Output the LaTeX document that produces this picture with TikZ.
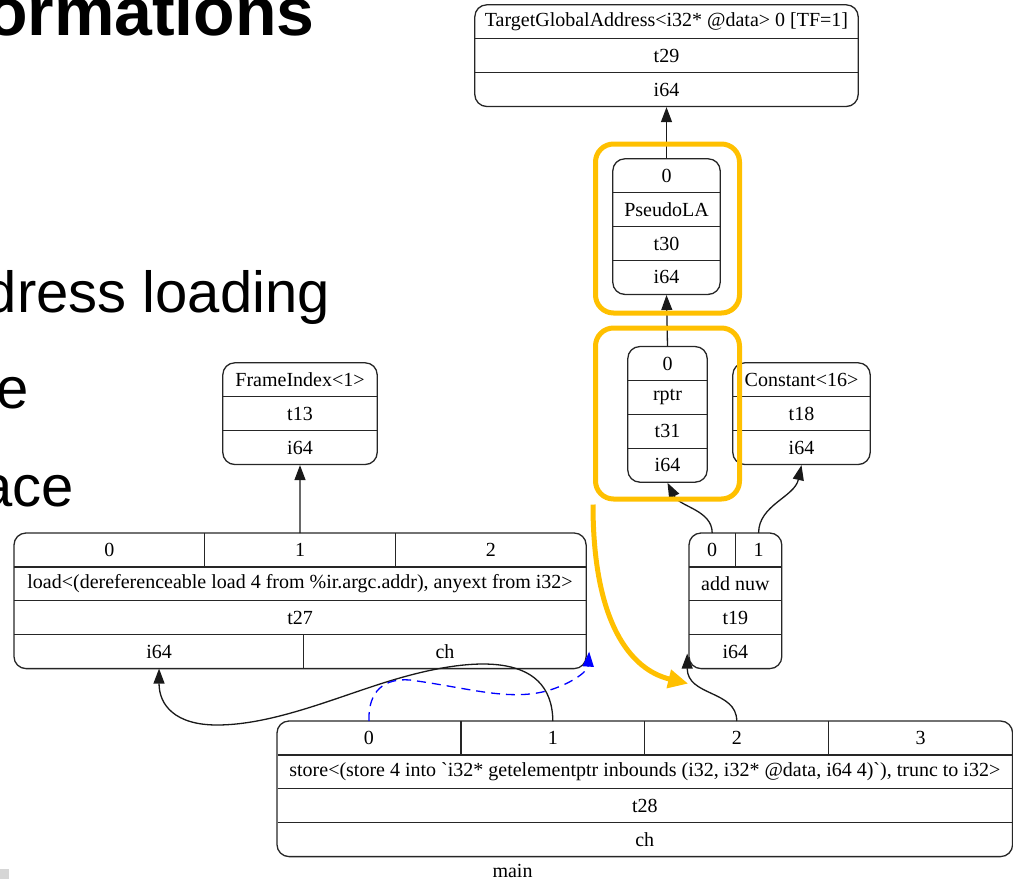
\documentclass[tikz,border=0pt]{standalone}
\usepackage{fontspec}
\newfontfamily\gvfont{Liberation Serif}[Ligatures=TeXOff]
\newfontfamily\slidefont{Liberation Sans}
\usetikzlibrary{arrows.meta, positioning, fit, calc}
\definecolor{hlorange}{HTML}{FFC000}
\definecolor{pagegray}{HTML}{D6D6D6}

\begin{document}
\begin{tikzpicture}[
  x=1pt, y=-1pt,
  cell/.style={minimum height=33.5pt, inner sep=0pt, font=\gvfont\fontsize{20}{23}\selectfont},
  rec/.style={draw=black!85, line width=1.3pt, rounded corners=12pt, inner sep=0pt},
  sep/.style={draw=black!85, line width=1.3pt},
  arrow/.style={-{Triangle[length=15pt, width=11pt]}, line width=1.3pt, black!90},
  hl/.style={draw=hlorange, line width=5pt, rounded corners=18pt, minimum width=144pt},
  slide/.style={anchor=base east, inner sep=0pt, font=\slidefont\fontsize{58}{60}\selectfont}
  ]
  \useasboundingbox (0,0) rectangle (1013,879);

  % ========== slide text (cut off) ==========
  \node[slide, font=\slidefont\bfseries\fontsize{68}{70}\selectfont] (title) at (315,35) {ormations};
  \node[slide] (line1) at (330,312) {dress loading};
  \node[slide] (line2) at (29,408) {e};
  \node[slide] (line3) at (74,506) {ace};
  \fill[pagegray] (0,869) rectangle (9,879);

  % ========== TargetGlobalAddress ==========
  \node[cell, minimum width=383pt] (tga0) at (666.5,21.75) {TargetGlobalAddress<i32* @data> 0 [TF=1]};
  \node[cell, minimum width=383pt, below=0pt of tga0] (tga1) {t29};
  \node[cell, minimum width=383pt, below=0pt of tga1] (tga2) {i64};
  \node[rec, fit=(tga0)(tga2)] (tga) {};
  \foreach \r in {tga0,tga1} \draw[sep] (\r.south west) -- (\r.south east);

  % ========== PseudoLA ==========
  \node[cell, minimum width=107pt] (pla0) at (666.5,175.75) {0};
  \node[cell, minimum width=107pt, below=0pt of pla0] (pla1) {PseudoLA};
  \node[cell, minimum width=107pt, below=0pt of pla1] (pla2) {t30};
  \node[cell, minimum width=107pt, below=0pt of pla2] (pla3) {i64};
  \node[rec, fit=(pla0)(pla3)] (pla) {};
  \foreach \r in {pla0,pla1,pla2} \draw[sep] (\r.south west) -- (\r.south east);

  % ========== rptr ==========
  \node[cell, minimum width=79pt] (rptr0) at (667.5,363.5) {0};
  \node[cell, minimum width=79pt, below=0pt of rptr0] (rptr1) {rptr};
  \node[cell, minimum width=79pt, below=0pt of rptr1] (rptr2) {t31};
  \node[cell, minimum width=79pt, below=0pt of rptr2] (rptr3) {i64};
  \node[rec, fit=(rptr0)(rptr3)] (rptr) {};
  \foreach \r in {rptr0,rptr1,rptr2} \draw[sep] (\r.south west) -- (\r.south east);

  % ========== Constant / FrameIndex ==========
  \node[cell, minimum width=137pt] (const0) at (801.5,379.75) {Constant<16>};
  \node[cell, minimum width=137pt, below=0pt of const0] (const1) {t18};
  \node[cell, minimum width=137pt, below=0pt of const1] (const2) {i64};
  \node[rec, fit=(const0)(const2)] (const) {};
  \foreach \r in {const0,const1} \draw[sep] (\r.south west) -- (\r.south east);

  \node[cell, minimum width=154pt] (fi0) at (300,379.75) {FrameIndex<1>};
  \node[cell, minimum width=154pt, below=0pt of fi0] (fi1) {t13};
  \node[cell, minimum width=154pt, below=0pt of fi1] (fi2) {i64};
  \node[rec, fit=(fi0)(fi2)] (fi) {};
  \foreach \r in {fi0,fi1} \draw[sep] (\r.south west) -- (\r.south east);

  % ========== load ==========
  \node[cell, minimum width=190.3pt, anchor=north west] (load0) at (14,533) {0};
  \node[cell, minimum width=190.3pt, right=0pt of load0] (load1) {1};
  \node[cell, minimum width=190.3pt, right=0pt of load1] (load2) {2};
  \node[cell, minimum width=571pt, below=0pt of load1] (loadop) {load<(dereferenceable load 4 from \%ir.argc.addr), anyext from i32>};
  \node[cell, minimum width=571pt, below=0pt of loadop] (loadt27) {t27};
  \node[cell, minimum width=289pt, anchor=north west] (loadi64) at (loadt27.south west) {i64};
  \node[cell, minimum width=282pt, right=0pt of loadi64] (loadch) {ch};
  \node[rec, fit=(load0)(load2)(loadi64)(loadch)] (load) {};
  \foreach \r in {load0,load1,loadi64} \draw[sep] (\r.north east) -- (\r.south east);
  \foreach \r in {loadop,loadt27} \draw[sep] (\r.north west) -- (\r.north east);
  \draw[sep] (loadt27.south west) -- (loadt27.south east);

  % ========== add nuw ==========
  \node[cell, minimum width=46pt, anchor=north west] (add0) at (689,533) {0};
  \node[cell, minimum width=46pt, right=0pt of add0] (add1) {1};
  \node[cell, minimum width=92pt, below=0pt of add0.south east] (addop) {add nuw};
  \node[cell, minimum width=92pt, below=0pt of addop] (addt19) {t19};
  \node[cell, minimum width=92pt, below=0pt of addt19] (addi64) {i64};
  \node[rec, fit=(add0)(add1)(addi64)] (add) {};
  \draw[sep] (add0.north east) -- (add0.south east);
  \foreach \r in {addop,addt19,addi64} \draw[sep] (\r.north west) -- (\r.north east);

  % ========== store ==========
  \node[cell, minimum width=183.5pt, anchor=north west] (store0) at (277,721) {0};
  \node[cell, minimum width=183.5pt, right=0pt of store0] (store1) {1};
  \node[cell, minimum width=183.5pt, right=0pt of store1] (store2) {2};
  \node[cell, minimum width=183.5pt, right=0pt of store2] (store3) {3};
  \node[cell, minimum width=734pt, below=0pt of store1.south east] (storeop) {store<(store 4 into `i32* getelementptr inbounds (i32, i32* @data, i64 4)`), trunc to i32>};
  \node[cell, minimum width=734pt, below=0pt of storeop] (storet28) {t28};
  \node[cell, minimum width=734pt, below=0pt of storet28] (storech) {ch};
  \node[rec, fit=(store0)(store3)(storech)] (store) {};
  \foreach \r in {store0,store1,store2} \draw[sep] (\r.north east) -- (\r.south east);
  \foreach \r in {storeop,storet28,storech} \draw[sep] (\r.north west) -- (\r.north east);

  \node[cell] (main) at (512.5,871) {main};

  % ========== edges ==========
  \coordinate (chtip) at ($(loadch.south east)+(3,-17)$);
  \coordinate (addtip) at ($(addi64.south west)+(-2,-15)$);
  \draw[arrow] (load1.north) -- (fi.south);
  \draw[arrow] (pla.north) -- (tga.south);
  \draw[arrow] (rptr.north) -- (pla.south);
  \draw[arrow] (add0.north) .. controls +(0,-23) and +(12,24) .. (rptr.south);
  \draw[arrow] (add1.north) .. controls +(0,-28) and +(-7,32) .. (const.south);
  \draw[arrow] (store2.north) .. controls +(0,-31) and +(0,43) .. (addtip);
  \draw[arrow] (store1.north) .. controls (552,650) and (470,655) .. (380,684)
    .. controls (330,700) and (270,725) .. (217,725)
    .. controls (175,725) and (159,705) .. (loadi64.south);
  \draw[arrow, blue, dash pattern=on 9pt off 6pt] (store0.north) .. controls (368,690) and (385,678) .. (410,680)
    .. controls (470,688) and (510,702) .. (550,690)
    .. controls (575,682) and (588,670) .. (chtip);

  % ========== highlight ==========
  \node[hl, minimum height=169pt] (hlpla) at (667.5,228.5) {};
  \node[hl, minimum height=171pt] (hlrptr) at (667.5,413.5) {};
  \coordinate (hltip) at ($(addi64.south west)+(-1,15)$);
  \draw[hlorange, line width=5pt, -{Triangle[length=20pt, width=18pt]}]
    ($(hlrptr.south west)+(0,3)$) .. controls +(0,118) and +(-58,-14) .. (hltip);
\end{tikzpicture}
\end{document}
